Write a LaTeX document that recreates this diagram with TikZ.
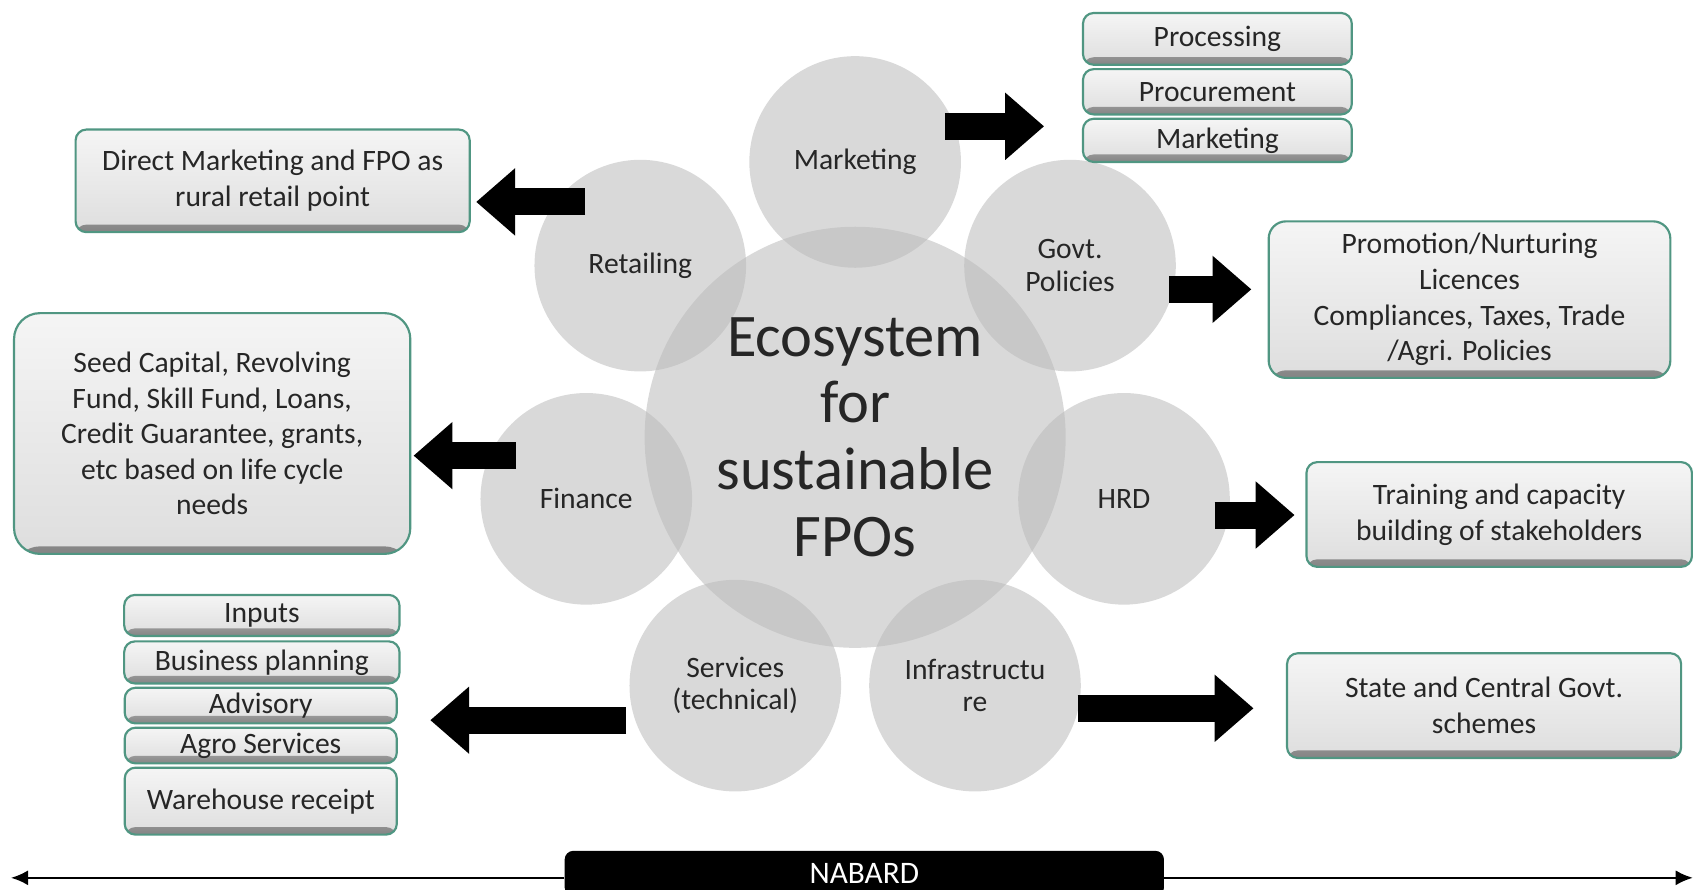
\documentclass[tikz,border=0pt]{standalone}
\usepackage{fontspec}
\setmainfont{Carlito}
\usetikzlibrary{arrows.meta,shapes}
\definecolor{boxline}{RGB}{80,150,130}
\definecolor{circg}{RGB}{186,186,186}
\tikzstyle{bx} = [rectangle, draw=boxline, line width=1pt, top color=black!4,
    bottom color=black!13, rounded corners=5pt, align=center, inner sep=0pt,
    text=black!85, font=\fontsize{13.7}{16.5}\selectfont,
    path picture={\shade[top color=black!13, bottom color=black!48]
      ([yshift=3.5pt]path picture bounding box.south west) rectangle
      (path picture bounding box.south east);}]
\tikzstyle{sat} = [circle, fill=circg, fill opacity=0.55, text opacity=1,
    minimum size=98pt, align=center, inner sep=0pt, text=black!85,
    font=\fontsize{13.7}{15}\selectfont]
\tikzstyle{fat} = [line width=12.5pt, -{Triangle[length=18pt,width=30pt]}]
\tikzstyle{nabline} = [line width=1.2pt, -{Latex[length=8pt,width=7pt]}]

\begin{document}
\begin{tikzpicture}[x=0.5pt,y=-0.5pt]
  \useasboundingbox (0,0) rectangle (1568,824);

  % circles
  \node[sat] (mark)  at (792,150) {Marketing};
  \node[sat] (govt)  at (991,246) {Govt.\\Policies};
  \node[sat] (hrd)   at (1041,462) {HRD};
  \node[sat] (infra) at (903,635) {Infrastructu\\re};
  \node[sat] (serv)  at (681,635) {Services\\(technical)};
  \node[sat] (fin)   at (543,462) {Finance};
  \node[sat] (ret)   at (593,246) {Retailing};
  \node[sat, minimum size=195pt, font=\fontsize{28}{31}\selectfont]
       (eco) at (792,405) {Ecosystem\\for\\sustainable\\FPOs};

  % boxes
  \node[bx, minimum width=182.5pt, minimum height=47.5pt] (dm) at (252.5,167.5)
       {Direct Marketing and FPO as\\rural retail point};
  \node[bx, minimum width=183.5pt, minimum height=111.5pt, rounded corners=12pt]
       (seed) at (196.5,401.5) {Seed Capital, Revolving\\Fund, Skill Fund, Loans,\\Credit Guarantee, grants,\\etc based on life cycle\\needs};

  \node[bx, minimum width=127.5pt, minimum height=19pt]   (inp)   at (242.5,570)   {Inputs};
  \node[bx, minimum width=127.5pt, minimum height=19.5pt] (bplan) at (242.5,613.5) {Business planning};
  \node[bx, minimum width=126pt, minimum height=16.5pt]   (adv)   at (241.5,653.5) {Advisory};
  \node[bx, minimum width=126pt, minimum height=16.5pt]   (agro)  at (241.5,690.5) {Agro Services};
  \node[bx, minimum width=126pt, minimum height=31pt]     (ware)  at (241.5,742)   {Warehouse receipt};

  \node[bx, minimum width=124.5pt, minimum height=24pt] (proc)  at (1127.5,36)  {Processing};
  \node[bx, minimum width=124.5pt, minimum height=21pt] (procu) at (1127.5,85)  {Procurement};
  \node[bx, minimum width=124.5pt, minimum height=20pt] (mkt)   at (1127.5,130) {Marketing};

  \node[bx, minimum width=186pt, minimum height=72.5pt, rounded corners=8pt]
       (promo) at (1361,277.5) {Promotion/Nurturing\\Licences\\Compliances, Taxes, Trade\\/Agri. Policies};
  \node[bx, minimum width=178.5pt, minimum height=48.5pt] (train) at (1388.5,476.5)
       {Training and capacity\\building of stakeholders};
  \node[bx, minimum width=182.5pt, minimum height=48.5pt] (state) at (1374.5,653.5)
       {State and Central Govt.\\schemes};

  % block arrows
  \coordinate (retT)  at (542,187);
  \coordinate (finT)  at (478,422);
  \coordinate (servT) at (580,667);
  \coordinate (markT) at (875,117);
  \coordinate (govT)  at (1083,268);
  \coordinate (hrdT)  at (1125,477);
  \coordinate (infT)  at (998,656);

  \draw[fat, shorten >=2.5pt] (retT)  -- (retT -| dm.east);
  \draw[fat, shorten >=1pt]   (finT)  -- (finT -| seed.east);
  \draw[fat, shorten >=15pt]  (servT) -- (servT -| adv.east);
  \draw[fat, shorten >=17.5pt] (markT) -- (markT -| mkt.west);
  \draw[fat, shorten >=7.5pt] (govT)  -- (govT -| promo.west);
  \draw[fat, shorten >=5pt]   (hrdT)  -- (hrdT -| train.west);
  \draw[fat, shorten >=15pt]  (infT)  -- (infT -| state.west);

  % NABARD bar
  \coordinate (lend) at (10,813);
  \coordinate (rend) at (1568,813);
  \node[fill=black, rounded corners=4pt, minimum width=277.5pt, minimum height=21pt,
        text=white, font=\fontsize{14.5}{17}\selectfont] (nab) at (800.5,809) {NABARD};
  \draw[nabline] (lend -| nab.west) -- (lend);
  \draw[nabline] (rend -| nab.east) -- (rend);
\end{tikzpicture}
\end{document}
